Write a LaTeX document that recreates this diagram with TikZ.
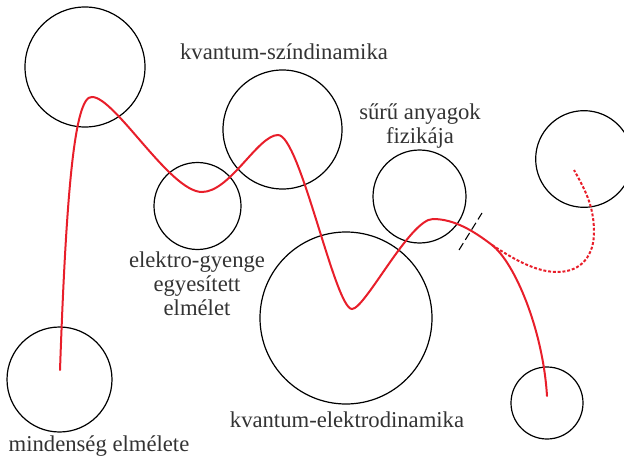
\documentclass[tikz,border=0pt]{standalone}
\usepackage{fontspec}
\setmainfont{Liberation Serif}
\definecolor{vermelho}{RGB}{232,30,42}

\begin{document}
\begin{tikzpicture}[x=0.75pt, y=-0.75pt,
    ring/.style={draw, circle, line width=0.9pt, inner sep=0pt, minimum size=#1},
    rotulo/.style={font=\fontsize{17}{18}\selectfont, text=black!80, align=center},
    trilha/.style={vermelho, line width=1.5pt, line cap=round}]

                \useasboundingbox (0,0) rectangle (624,456);
                \clip (0,0) rectangle (624,456);

                % 1. Circulos (teorias)
                \node[ring=90pt]    (topo)     at (85,67) {};
                \node[ring=65.25pt] (eletrofr) at (197.5,206) {};
                \node[ring=89.25pt] (qcd)      at (282.5,129.5) {};
                \node[ring=69.75pt] (solido)   at (419.5,196.5) {};
                \node[ring=72.5pt]  (direita)  at (584,159) {};
                \node[ring=129pt]   (qed)      at (346,318) {};
                \node[ring=54pt]    (baixo)    at (547,403) {};
                \node[ring=78.75pt] (tudo)     at (59.5,379.5) {};

                % 2. Rotulos
                \node[rotulo, anchor=base] (lqcd)  at (284,60) {kvantum-színdinamika};
                \node[rotulo] (lsolido) at (420,126) {sűrű anyagok\\fizikája};
                \node[rotulo] (leletro) at (197,284) {elektro-gyenge\\egyesített\\elmélet};
                \node[rotulo, anchor=base] (lqed)  at (347,427) {kvantum-elektrodinamika};
                \node[rotulo, anchor=base] (ltudo) at (99,451) {mindenség elmélete};

                % 3. Trajetoria (linha vermelha)
                \coordinate (ini) at (60,370); % dentro de "mindenseg elmelete"
                \coordinate (fim) at (547,396); % dentro do circulo de baixo
                \coordinate (ramo) at (492,245); % onde sai o ramo tracejado
                \draw[trilha] (ini)
                    .. controls (66,200) and (74,95) .. (92,97)
                    .. controls (115,97) and (170,192) .. (202,192)
                    .. controls (230,192) and (258,135) .. (278,135)
                    .. controls (300,135) and (335,309) .. (352,309)
                    .. controls (365,309) and (410,219) .. (433,219)
                    .. controls (455,219) and (475,232) .. (ramo)
                    .. controls (515,263) and (543,330) .. (fim);

                % Ramo tracejado
                \coordinate (alvo) at (574,170); % dentro do circulo da direita
                \draw[trilha, line cap=butt, dash pattern=on 2.2pt off 1.4pt] (ramo)
                    .. controls (512,258) and (535,272) .. (557,272)
                    .. controls (582,272) and (594,255) .. (594,232)
                    .. controls (594,205) and (584,188) .. (alvo);

                % 4. Marca de corte
                \draw[line width=0.8pt, dash pattern=on 6pt off 3pt] (459,250) -- (482,213);

            \end{tikzpicture}
\end{document}
